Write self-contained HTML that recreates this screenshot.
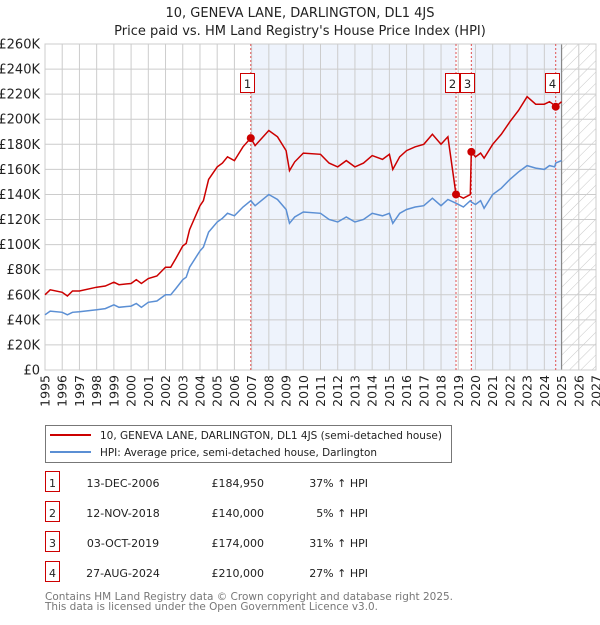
<!DOCTYPE html>
<html><head><meta charset="utf-8">
<style>
body{margin:0;background:#fff;width:600px;height:620px;overflow:hidden;font-family:"Liberation Sans","DejaVu Sans",sans-serif;}
svg text{font-family:"DejaVu Sans","Liberation Sans",sans-serif;}
</style></head>
<body>
<svg id="chart" width="600" height="620"></svg>
<script>
const hpiYears=[1995,1995.3,1996,1996.3,1996.6,1997,1998,1998.5,1999,1999.3,2000,2000.3,2000.6,2001,2001.5,2002,2002.3,2002.6,2003,2003.2,2003.4,2004,2004.2,2004.5,2005,2005.3,2005.6,2006,2006.5,2006.95,2007.2,2008,2008.5,2009,2009.2,2009.5,2010,2011,2011.5,2012,2012.5,2013,2013.5,2014,2014.6,2015,2015.2,2015.6,2016,2016.5,2017,2017.5,2018,2018.4,2018.87,2019.3,2019.7,2019.76,2020,2020.3,2020.5,2021,2021.5,2022,2022.5,2023,2023.5,2024,2024.3,2024.6,2024.66,2025];
const hpiValues=[44,47,46,44,46,46.5,48,49,52,50,51,53,50,54,55,60,60,65,72,74,82,95,98,110,118,121,125,123,130,135,131,140,136,128,117,122,126,125,120,118,122,118,120,125,123,125,117,125,128,130,131,137,131,136,133,130,135,134,132,135,129,140,145,152,158,163,161,160,163,162,165,167];
const priceValues=[60,64,62,59,63,63,66,67,70,68,69,72,69,73,75,82,82,89,99,101,112,131,135,152,162,165,170,167,178,185,179,191,186,175,159,166,173,172,165,162,167,162,165,171,168,172,160,170,175,178,180,188,180,186,140,137,140,174,170,173,169,180,188,198,207,218,212,212,214,211,210,214];
const saleLabels=["1","2","3","4"];
const saleYears=[2006.95,2018.87,2019.76,2024.66];
const salePrices=[184.95,140,174,210];
const yTicks=[0,20,40,60,80,100,120,140,160,180,200,220,240,260];
const xTicks=[1995,1996,1997,1998,1999,2000,2001,2002,2003,2004,2005,2006,2007,2008,2009,2010,2011,2012,2013,2014,2015,2016,2017,2018,2019,2020,2021,2022,2023,2024,2025,2026,2027];

const NS="http://www.w3.org/2000/svg";
const svg=document.getElementById('chart');
const L=45,R=596,T=44,B=370;
const X=y=>L+(y-1995)/(2027-1995)*(R-L);
const Y=v=>B-v/260*(B-T);
function mk(tag,attrs,parent){const e=document.createElementNS(NS,tag);for(const k in attrs)e.setAttribute(k,attrs[k]);(parent||svg).appendChild(e);return e;}

const defs=mk('defs',{});
const pat=mk('pattern',{id:'hatch',width:8,height:8,patternUnits:'userSpaceOnUse',patternTransform:'rotate(45)'},defs);
mk('line',{x1:0,y1:0,x2:0,y2:8,stroke:'#c8c8c8','stroke-width':1},pat);

let t=mk('text',{x:300,y:17,'text-anchor':'middle','font-size':13,fill:'#222'});t.textContent='10, GENEVA LANE, DARLINGTON, DL1 4JS';


t=mk('text',{x:300,y:35,'text-anchor':'middle','font-size':13,fill:'#222'});t.textContent="Price paid vs. HM Land Registry's House Price Index (HPI)";



let r=mk('rect',{x:X(saleYears[0]),y:T,width:X(saleYears[1])-X(saleYears[0]),height:B-T,fill:'#eef3fc'});


r=mk('rect',{x:X(saleYears[2]),y:T,width:X(2025)-X(saleYears[2]),height:B-T,fill:'#eef3fc'});


r=mk('rect',{x:X(2025),y:T,width:R-X(2025),height:B-T,fill:'url(#hatch)'});



yTicks.forEach(v=>{
  const g=mk('line',{x1:L,x2:R,y1:Y(v),y2:Y(v),stroke:'#ccc','stroke-width':1});
  
  
  const tx=mk('text',{x:40,y:Y(v)+4.5,'text-anchor':'end','font-size':13,fill:'#222'});
  tx.textContent=v===0?'£0':'£'+v+'K';
  
  
});
xTicks.forEach(v=>{
  const g=mk('line',{x1:X(v),x2:X(v),y1:T,y2:B,stroke:'#ccc','stroke-width':1});
  
  
  const x=X(v)+4.5,y=375;
  const tx=mk('text',{x:x,y:y,'text-anchor':'end','font-size':12.5,fill:'#222',transform:'rotate(-90 '+x+' '+y+')'});
  tx.textContent=v;
  
  
});
let vl=mk('line',{x1:X(2025),x2:X(2025),y1:T,y2:B,stroke:'#888','stroke-width':1.2});


let fr=mk('rect',{x:L,y:T,width:R-L,height:B-T,fill:'none',stroke:'#ccc'});



saleYears.forEach((s,i)=>{
  const l=mk('line',{x1:X(s),x2:X(s),y1:T,y2:B,stroke:'#e05050','stroke-width':1,'stroke-dasharray':'2,2'});
  
  
  const bx=Math.round(X(s))-10.5;
  const b=mk('rect',{x:bx,y:73.5,width:14,height:19,fill:'#fff',stroke:'#c00','stroke-width':1});
  
  
  const tx=mk('text',{x:bx+7,y:88,'text-anchor':'middle','font-size':11.5,fill:'#222'});
  tx.textContent=saleLabels[i];
  
  
});

const path=vals=>vals.map((v,i)=>(i?'L':'M')+X(hpiYears[i]).toFixed(1)+','+Y(v).toFixed(1)).join('');
let p=mk('path',{d:path(hpiValues),fill:'none',stroke:'#5b8fd4','stroke-width':1.5});


p=mk('path',{d:path(priceValues),fill:'none',stroke:'#cc0000','stroke-width':1.5});


saleYears.forEach((s,i)=>{
  const c=mk('circle',{cx:X(s),cy:Y(salePrices[i]),r:4,fill:'#cc0000'});
  
  
});

// legend
let lg=mk('rect',{x:45.5,y:425.5,width:406,height:37,fill:'#fff',stroke:'#777'});


let ll=mk('line',{x1:50,x2:91,y1:435,y2:435,stroke:'#cc0000','stroke-width':2});


t=mk('text',{x:100,y:439,'font-size':11,fill:'#222',textLength:342,lengthAdjust:'spacingAndGlyphs'});t.textContent='10, GENEVA LANE, DARLINGTON, DL1 4JS (semi-detached house)';


ll=mk('line',{x1:50,x2:91,y1:452,y2:452,stroke:'#5b8fd4','stroke-width':2});


t=mk('text',{x:100,y:456,'font-size':11,fill:'#222',textLength:277,lengthAdjust:'spacingAndGlyphs'});t.textContent='HPI: Average price, semi-detached house, Darlington';



// table
const dates=["13-DEC-2006","12-NOV-2018","03-OCT-2019","27-AUG-2024"];
const prices=["£184,950","£140,000","£174,000","£210,000"];
const pcts=["37% ↑ HPI","5% ↑ HPI","31% ↑ HPI","27% ↑ HPI"];
dates.forEach((d,i)=>{
  const y=483+i*30;
  const b=mk('rect',{x:45.5,y:y-11.5,width:14,height:20,fill:'none',stroke:'#c00'});
  
  
  let e=mk('text',{x:52.5,y:y+4,'text-anchor':'middle','font-size':11,fill:'#222'});e.textContent=saleLabels[i];
  
  
  e=mk('text',{x:123,y:y+4,'text-anchor':'middle','font-size':11,fill:'#222'});e.textContent=d;
  
  
  e=mk('text',{x:264,y:y+4,'text-anchor':'end','font-size':11,fill:'#222'});e.textContent=prices[i];
  
  
  e=mk('text',{x:368,y:y+4,'text-anchor':'end','font-size':11,fill:'#222'});e.textContent=pcts[i];
  
  
});
t=mk('text',{x:45,y:600,'font-size':11,fill:'#777',textLength:408,lengthAdjust:'spacingAndGlyphs'});t.textContent='Contains HM Land Registry data © Crown copyright and database right 2025.';


t=mk('text',{x:45,y:610,'font-size':11,fill:'#777',textLength:333,lengthAdjust:'spacingAndGlyphs'});t.textContent='This data is licensed under the Open Government Licence v3.0.';


</script>
</body></html>
